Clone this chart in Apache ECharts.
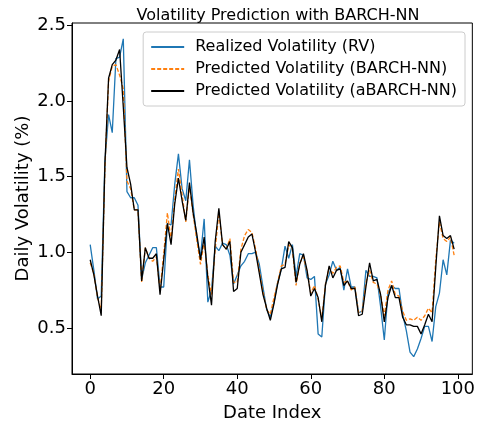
<!DOCTYPE html>
<html>
<head>
<meta charset="utf-8">
<script src="https://cdn.jsdelivr.net/npm/echarts@6/dist/echarts.min.js"></script>
<style>
  html, body { margin: 0; padding: 0; background: #fff; }
  #chart { width: 478px; height: 427px; }
</style>
</head>
<body>
<div id="chart"></div>
<script>
// realized volatility (RV)
var rv = [1.05, 0.88, 0.69, 0.71, 1.60, 1.91, 1.79, 2.28, 2.29, 2.41,
          1.40, 1.36, 1.36, 1.31, 0.82, 0.93, 0.98, 1.03, 1.03, 0.77,
          0.77, 1.19, 1.18, 1.45, 1.65, 1.42, 1.34, 1.61, 1.31, 1.09,
          0.97, 1.22, 0.67, 0.75, 1.04, 1.01, 1.06, 1.05, 0.98, 0.79,
          0.85, 0.91, 0.94, 0.99, 0.99, 1.00, 0.92, 0.77, 0.62, 0.57,
          0.67, 0.80, 0.89, 1.04, 0.96, 1.05, 0.84, 0.99, 0.98, 0.83,
          0.82, 0.84, 0.46, 0.44, 0.79, 0.85, 0.94, 0.88, 0.90, 0.75,
          0.89, 0.77, 0.77, 0.60, 0.61, 0.88, 0.84, 0.84, 0.83, 0.64,
          0.42, 0.73, 0.78, 0.76, 0.76, 0.59, 0.48, 0.34, 0.31, 0.36,
          0.43, 0.51, 0.51, 0.41, 0.64, 0.73, 0.95, 0.85, 1.08, 1.06];
// BARCH-NN prediction
var barch = [0.93, 0.86, 0.70, 0.62, 1.55, 2.13, 2.23, 2.24, 2.17, 2.08,
             1.47, 1.42, 1.28, 1.28, 0.80, 1.03, 0.96, 0.94, 0.97, 0.75,
             0.99, 1.26, 1.08, 1.35, 1.55, 1.38, 1.20, 1.44, 1.25, 1.08,
             0.92, 1.07, 0.85, 0.72, 1.02, 1.26, 1.05, 1.02, 1.09, 0.80,
             0.80, 1.02, 1.11, 1.15, 1.13, 1.02, 0.88, 0.74, 0.62, 0.59,
             0.70, 0.80, 0.91, 0.92, 1.05, 1.02, 0.78, 0.93, 0.97, 0.87,
             0.73, 0.78, 0.69, 0.56, 0.79, 0.90, 0.86, 0.90, 0.91, 0.80,
             0.81, 0.75, 0.77, 0.60, 0.61, 0.80, 0.88, 0.80, 0.79, 0.72,
             0.58, 0.75, 0.81, 0.72, 0.71, 0.61, 0.55, 0.56, 0.55, 0.57,
             0.55, 0.58, 0.63, 0.60, 0.95, 1.20, 1.09, 1.07, 1.10, 0.98];
// aBARCH-NN prediction
var abarch = [0.95, 0.85, 0.71, 0.58, 1.58, 2.15, 2.24, 2.27, 2.34, 1.96,
              1.56, 1.45, 1.28, 1.28, 0.81, 1.03, 0.96, 0.96, 0.99, 0.72,
              0.95, 1.19, 1.05, 1.32, 1.49, 1.34, 1.21, 1.46, 1.26, 1.12,
              0.95, 1.10, 0.83, 0.65, 1.07, 1.29, 1.05, 1.02, 1.07, 0.74,
              0.76, 1.00, 1.05, 1.10, 1.12, 1.00, 0.86, 0.72, 0.63, 0.55,
              0.66, 0.79, 0.89, 0.90, 1.07, 1.03, 0.80, 0.92, 0.99, 0.88,
              0.71, 0.76, 0.70, 0.54, 0.78, 0.91, 0.83, 0.88, 0.89, 0.78,
              0.81, 0.76, 0.76, 0.58, 0.59, 0.77, 0.93, 0.81, 0.82, 0.72,
              0.54, 0.70, 0.78, 0.70, 0.70, 0.57, 0.52, 0.52, 0.51, 0.51,
              0.46, 0.52, 0.59, 0.54, 0.90, 1.24, 1.11, 1.09, 1.11, 1.02];
var xTicks = [0, 20, 40, 60, 80, 100];
var yTicks = [0.5, 1.0, 1.5, 2.0, 2.5];
var names = ['Realized Volatility (RV)', 'Predicted Volatility (BARCH-NN)', 'Predicted Volatility (aBARCH-NN)'];

function pairs(arr) {
    return arr.map(function (v, i) { return [i, v]; });
}

var font = 'DejaVu Sans';
var chart = echarts.init(document.getElementById('chart'));
var option = {
    animation: false,
    title: {
        text: 'Volatility Prediction with BARCH-NN',
        left: 273, top: 3, textAlign: 'center',
        textStyle: { fontFamily: font, fontSize: 16, fontWeight: 'normal', color: '#000' }
    },
    legend: {
        orient: 'vertical',
        right: 13, top: 32,
        padding: [7, 8, 7, 7],
        itemGap: 6,
        itemWidth: 33, itemHeight: 14,
        itemStyle: { opacity: 0 },
        backgroundColor: 'rgba(255,255,255,0.8)',
        borderColor: '#cccccc', borderWidth: 1, borderRadius: 3,
        textStyle: { fontFamily: font, fontSize: 16, color: '#000', padding: [0, 0, 0, 6] },
        data: names
    },
    grid: { left: 72, right: 4, top: 23, bottom: 50, show: true, borderColor: '#000', borderWidth: 1 },
    xAxis: {
        type: 'value', min: -4.95, max: 103.95,
        name: 'Date Index', nameLocation: 'middle', nameGap: 30,
        nameTextStyle: { fontFamily: font, fontSize: 18, color: '#000' },
        axisLine: { onZero: false, lineStyle: { color: '#000' } },
        axisTick: { customValues: xTicks, length: 5, lineStyle: { color: '#000' } },
        axisLabel: { customValues: xTicks, fontFamily: font, fontSize: 18, color: '#000', margin: 6 },
        splitLine: { show: false }
    },
    yAxis: {
        type: 'value', min: 0.195, max: 2.515,
        name: 'Daily Volatility (%)', nameLocation: 'middle', nameGap: 40,
        nameMoveOverlap: false,
        nameTextStyle: { fontFamily: font, fontSize: 18, color: '#000' },
        axisLine: { show: true, onZero: false, lineStyle: { color: '#000' } },
        axisTick: { show: true, customValues: yTicks, length: 5, lineStyle: { color: '#000' } },
        axisLabel: {
            customValues: yTicks, fontFamily: font, fontSize: 18, color: '#000', margin: 6,
            formatter: function (v) { return v.toFixed(1); }
        },
        splitLine: { show: false }
    },
    series: [{
        name: names[0], type: 'line', data: pairs(rv),
        symbol: 'none', color: '#1f77b4',
        lineStyle: { width: 1.3, color: '#1f77b4' }
    }, {
        name: names[1], type: 'line', data: pairs(barch),
        symbol: 'none', color: '#ff7f0e',
        lineStyle: { width: 1.3, color: '#ff7f0e', type: [4, 2] }
    }, {
        name: names[2], type: 'line', data: pairs(abarch),
        symbol: 'none', color: '#000000',
        lineStyle: { width: 1.3, color: '#000000' }
    }]
};
chart.setOption(option);
</script>
</body>
</html>
